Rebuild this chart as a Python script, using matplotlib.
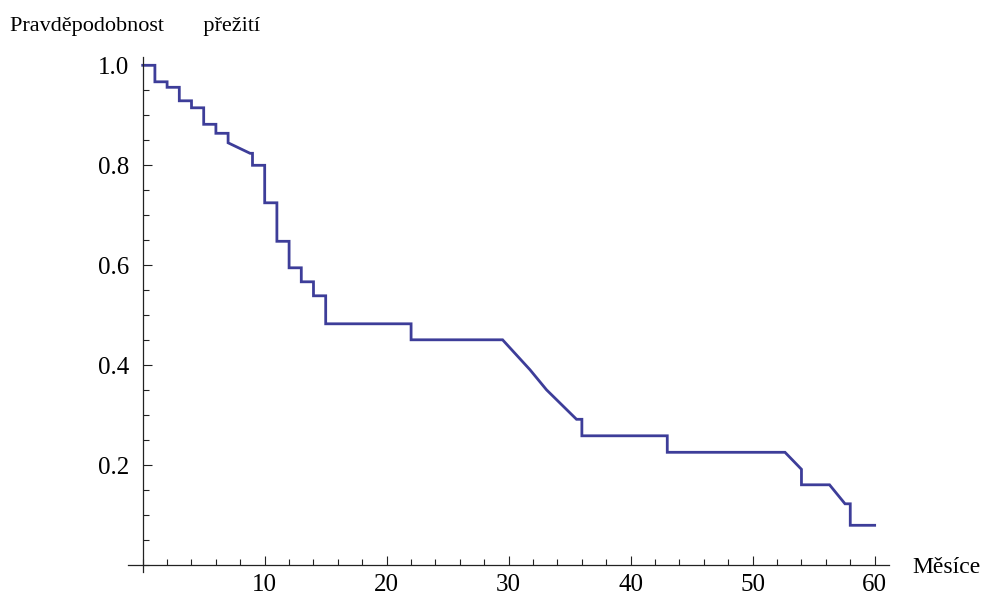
import matplotlib
matplotlib.use("Agg")
import matplotlib.pyplot as plt
from matplotlib.ticker import MultipleLocator, FixedLocator

# Curve vertices (months, survival probability)
months = [0, 1, 1, 2, 2, 3, 3, 4, 4, 5, 5, 6, 6, 7, 7, 8.8, 9, 9, 10, 10, 11, 11,
          12, 12, 13, 13, 14, 14, 15, 15, 22, 22, 29.5, 31.75, 33.1, 35.56, 36, 36,
          43, 43, 52.65, 54, 54, 56.3, 57.57, 58, 58, 60]
survival = [1.0, 1.0, 0.967, 0.967, 0.956, 0.956, 0.929, 0.929, 0.915, 0.915, 0.882,
            0.882, 0.864, 0.864, 0.845, 0.824, 0.824, 0.800, 0.800, 0.725, 0.725, 0.648,
            0.648, 0.595, 0.595, 0.567, 0.567, 0.539, 0.539, 0.483, 0.483, 0.451, 0.451,
            0.391, 0.351, 0.292, 0.292, 0.259, 0.259, 0.226, 0.226, 0.192, 0.161, 0.161,
            0.123, 0.123, 0.080, 0.080]

x_major = [10, 20, 30, 40, 50, 60]
y_major = [0.2, 0.4, 0.6, 0.8, 1.0]
x_label = "Měsíce"
y_label = "Pravděpodobnost       přežití"

plt.rcParams['font.family'] = ['Liberation Serif', 'DejaVu Serif']

W, H = 982, 603
fig = plt.figure(figsize=(W / 100, H / 100), dpi=100)
left_px, right_px, top_px, bot_px = 128.06, 889.3, 57, 572
ax = fig.add_axes([left_px / W, 1 - bot_px / H, (right_px - left_px) / W, (bot_px - top_px) / H])
ax.set_xlim(-1.2, 61.2)
ax.set_ylim(-0.0134, 1.0166)

ax.plot(months, survival, color='#3d3d99', lw=2.0, solid_joinstyle='miter', clip_on=False)

for s in ['top', 'right']:
    ax.spines[s].set_visible(False)
ax.spines['left'].set_position(('data', 0))
ax.spines['bottom'].set_position(('data', 0))
for s in ['left', 'bottom']:
    ax.spines[s].set_linewidth(0.9)
    ax.spines[s].set_color('#222222')

ax.xaxis.set_major_locator(FixedLocator(x_major))
ax.xaxis.set_minor_locator(MultipleLocator(2))
ax.yaxis.set_major_locator(FixedLocator(y_major))
ax.yaxis.set_minor_locator(MultipleLocator(0.05))
ax.set_xticklabels([str(v) for v in x_major])
ax.set_yticklabels([f"{v:.1f}" for v in y_major])
ax.tick_params(axis='both', which='major', direction='in', length=6.5, width=0.8,
               color='#222222', labelsize=18)
ax.tick_params(axis='both', which='minor', direction='in', length=4.3, width=0.8,
               color='#222222')
ax.tick_params(axis='x', which='major', pad=6)
ax.tick_params(axis='y', which='major', pad=10)

fig.text(912 / W, 1 - 573 / H, x_label, fontsize=17, ha='left', va='baseline')
fig.text(10 / W, 1 - 31.5 / H, y_label, fontsize=16, ha='left', va='baseline')

fig.savefig("out.png", dpi=100)
